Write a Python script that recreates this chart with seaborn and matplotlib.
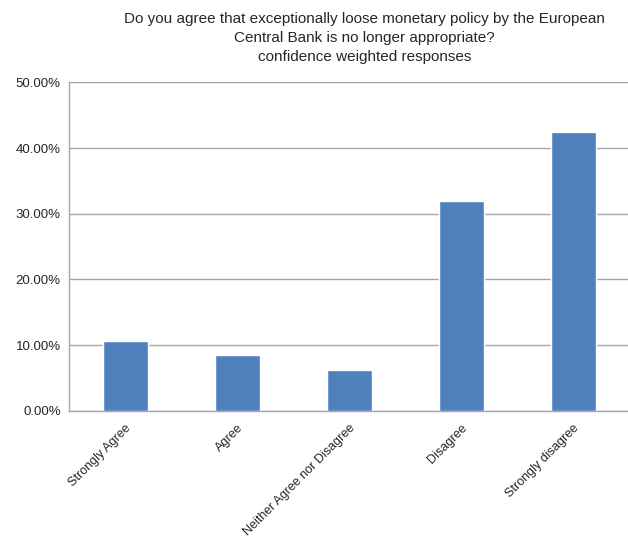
import matplotlib
matplotlib.use("Agg")
import matplotlib.pyplot as plt
import seaborn as sns
import pandas as pd
from matplotlib.ticker import FuncFormatter

# Survey answers and confidence weighted share of responses (%)
responses = ["Strongly Agree", "Agree", "Neither Agree nor Disagree",
             "Disagree", "Strongly disagree"]
shares = [10.6, 8.45, 6.15, 32.0, 42.4]

title_lines = [
    "Do you agree that exceptionally loose monetary policy by the European",
    "Central Bank is no longer appropriate?",
    "confidence weighted responses",
]

df = pd.DataFrame({"response": responses, "share": shares})

sns.set_theme(style="white")
plt.rcParams["font.family"] = ["Liberation Sans", "DejaVu Sans"]

fig = plt.figure(figsize=(6.28, 5.39), dpi=100)
ax = fig.add_axes([0.110, 0.238, 0.892, 0.609])

sns.barplot(data=df, x="response", y="share", color="#4F81BD",
            width=0.4, saturation=1, ax=ax, zorder=3)

ax.set_ylim(0, 50)
ax.set_xlim(-0.5, len(responses) - 0.5)
ax.set_yticks(range(0, 51, 10))
ax.yaxis.set_major_formatter(FuncFormatter(lambda v, _: f"{v:.2f}%"))
ax.yaxis.grid(True, color="#a6a6a6", linewidth=1.0, zorder=0)
ax.set_axisbelow(True)

for side in ["top", "right"]:
    ax.spines[side].set_visible(False)
for side in ["left", "bottom"]:
    ax.spines[side].set_color("#a6a6a6")
    ax.spines[side].set_linewidth(1.0)

ax.set_xlabel("")
ax.set_ylabel("")
ax.tick_params(axis="y", labelsize=9.5, pad=6, length=0)
ax.tick_params(axis="x", labelsize=9, length=0, pad=8)
plt.setp(ax.get_xticklabels(), rotation=45, ha="right", rotation_mode="anchor")

fig.text(0.58, 0.977, "\n".join(title_lines), ha="center", va="top",
         fontsize=11, linespacing=1.45)

fig.savefig("out.png", dpi=100)
